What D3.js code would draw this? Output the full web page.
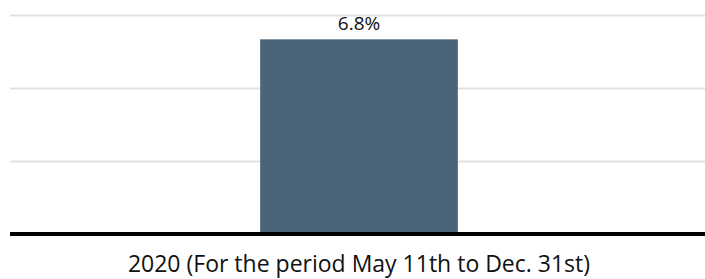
<!DOCTYPE html>
<html><head><meta charset="utf-8">
<script src="https://cdn.jsdelivr.net/npm/d3@7"></script>
<style>body{margin:0;background:#fff}svg{display:block}</style>
</head><body>
<svg id="c" width="705" height="279"></svg>
<script>
const categories = ["2020 (For the period May 11th to Dec. 31st)"];
const values = [6.8];
const valueLabels = ["6.8%"];
const gridValues = [2.55, 5.1, 7.65];

const svg = d3.select("#c");
const font = "'Open Sans', sans-serif";
const y = d3.scaleLinear().domain([0, 7.65]).range([234, 15]);
const x = d3.scaleBand().domain(categories).range([12, 706]).padding(0.5566);

svg.append("g").selectAll("line").data(gridValues).join("line")
  .attr("x1", 10).attr("x2", 705)
  .attr("y1", d => Math.round(y(d)) + 0.5).attr("y2", d => Math.round(y(d)) + 0.5)
  .attr("stroke", "#e2e2e2").attr("stroke-width", 2);

svg.append("g").selectAll("rect").data(values).join("rect")
  .attr("x", (d, i) => x(categories[i]))
  .attr("width", x.bandwidth())
  .attr("y", d => y(d))
  .attr("height", d => y(0) - y(d))
  .attr("fill", "#4a6579");

svg.append("line").attr("x1", 10).attr("x2", 705)
  .attr("y1", y(0)).attr("y2", y(0))
  .attr("stroke", "#000").attr("stroke-width", 4);

svg.append("g").selectAll("text").data(values).join("text")
  .attr("x", (d, i) => x(categories[i]) + x.bandwidth() / 2)
  .attr("y", d => y(d) - 9)
  .attr("text-anchor", "middle")
  .attr("font-family", font).attr("font-size", 19).attr("fill", "#111")
  .text((d, i) => valueLabels[i]);

const xAxis = d3.axisBottom(x).tickSize(0).tickPadding(0);
const ax = svg.append("g").attr("transform", `translate(0,${y(0)})`).call(xAxis);
ax.select(".domain").remove();
ax.selectAll("text").attr("font-family", font).attr("font-size", 23)
  .attr("fill", "#111").attr("dy", null).attr("y", 38);
</script>
</body></html>
